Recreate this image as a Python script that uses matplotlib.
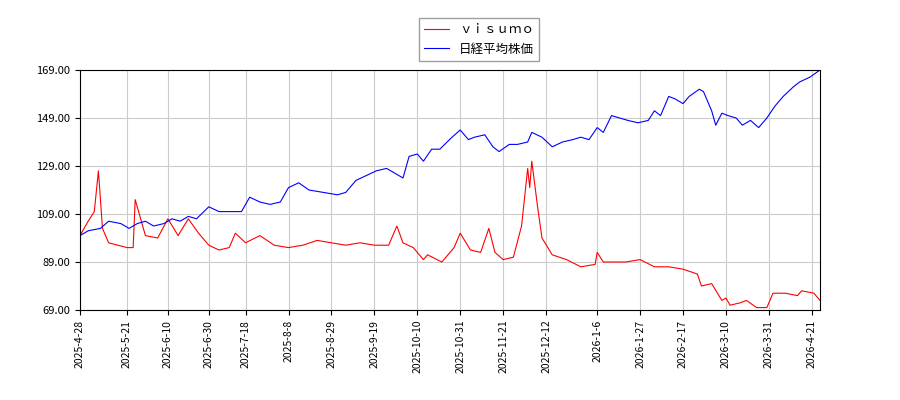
import matplotlib
matplotlib.use("Agg")
import matplotlib.pyplot as plt
import matplotlib.dates as mdates
import pandas as pd

plt.rcParams["font.family"] = ["Noto Sans CJK JP", "DejaVu Sans"]

red_dates = ["2025-04-28", "2025-05-02", "2025-05-05", "2025-05-07", "2025-05-09", "2025-05-12", "2025-05-21",
             "2025-05-24", "2025-05-25", "2025-05-30", "2025-06-05", "2025-06-10", "2025-06-15", "2025-06-20",
             "2025-06-25", "2025-06-30", "2025-07-05", "2025-07-10", "2025-07-13", "2025-07-18", "2025-07-25",
             "2025-08-01", "2025-08-08", "2025-08-15", "2025-08-22", "2025-08-29", "2025-09-05", "2025-09-12",
             "2025-09-19", "2025-09-26", "2025-09-30", "2025-10-03", "2025-10-08", "2025-10-13", "2025-10-15",
             "2025-10-22", "2025-10-28", "2025-10-31", "2025-11-05", "2025-11-10", "2025-11-14", "2025-11-17",
             "2025-11-21", "2025-11-26", "2025-11-30", "2025-12-03", "2025-12-04", "2025-12-05", "2025-12-08",
             "2025-12-10", "2025-12-15", "2025-12-22", "2025-12-29", "2026-01-05", "2026-01-06", "2026-01-09",
             "2026-01-20", "2026-01-27", "2026-02-03", "2026-02-10", "2026-02-17", "2026-02-24", "2026-02-26",
             "2026-03-03", "2026-03-08", "2026-03-10", "2026-03-12", "2026-03-17", "2026-03-20", "2026-03-25",
             "2026-03-30", "2026-04-02", "2026-04-08", "2026-04-14", "2026-04-16", "2026-04-22", "2026-04-25"]
red_values = [100, 106, 110, 127, 103, 97, 95, 95, 115, 100, 99, 107, 100, 107, 101, 96, 94, 95, 101, 97, 100,
              96, 95, 96, 98, 97, 96, 97, 96, 96, 104, 97, 95, 90, 92, 89, 95, 101, 94, 93, 103, 93, 90, 91,
              104, 128, 120, 131, 111, 99, 92, 90, 87, 88, 93, 89, 89, 90, 87, 87, 86, 84, 79, 80, 73, 74, 71,
              72, 73, 70, 70, 76, 76, 75, 77, 76, 73]

blue_dates = ["2025-04-28", "2025-05-02", "2025-05-08", "2025-05-12", "2025-05-18", "2025-05-22", "2025-05-26",
              "2025-05-30", "2025-06-03", "2025-06-08", "2025-06-12", "2025-06-16", "2025-06-20", "2025-06-24",
              "2025-06-30", "2025-07-05", "2025-07-10", "2025-07-16", "2025-07-20", "2025-07-25", "2025-07-30",
              "2025-08-04", "2025-08-08", "2025-08-13", "2025-08-18", "2025-08-25", "2025-09-01", "2025-09-05",
              "2025-09-10", "2025-09-15", "2025-09-20", "2025-09-25", "2025-10-01", "2025-10-03", "2025-10-06",
              "2025-10-10", "2025-10-13", "2025-10-17", "2025-10-21", "2025-10-27", "2025-10-31", "2025-11-04",
              "2025-11-07", "2025-11-12", "2025-11-16", "2025-11-19", "2025-11-24", "2025-11-28", "2025-12-03",
              "2025-12-05", "2025-12-10", "2025-12-15", "2025-12-20", "2025-12-25", "2025-12-29", "2026-01-02",
              "2026-01-06", "2026-01-09", "2026-01-13", "2026-01-17", "2026-01-21", "2026-01-26", "2026-01-31",
              "2026-02-03", "2026-02-06", "2026-02-10", "2026-02-13", "2026-02-17", "2026-02-20", "2026-02-25",
              "2026-02-27", "2026-03-03", "2026-03-05", "2026-03-08", "2026-03-11", "2026-03-15", "2026-03-18",
              "2026-03-22", "2026-03-26", "2026-03-30", "2026-04-03", "2026-04-07", "2026-04-12", "2026-04-15",
              "2026-04-20", "2026-04-25"]
blue_values = [100, 102, 103, 106, 105, 103, 105, 106, 104, 105, 107, 106, 108, 107, 112, 110, 110, 110, 116,
               114, 113, 114, 120, 122, 119, 118, 117, 118, 123, 125, 127, 128, 125, 124, 133, 134, 131, 136,
               136, 141, 144, 140, 141, 142, 137, 135, 138, 138, 139, 143, 141, 137, 139, 140, 141, 140, 145,
               143, 150, 149, 148, 147, 148, 152, 150, 158, 157, 155, 158, 161, 160, 152, 146, 151, 150, 149,
               146, 148, 145, 149, 154, 158, 162, 164, 166, 169]

tick_dates = ["2025-04-28", "2025-05-21", "2025-06-10", "2025-06-30", "2025-07-18", "2025-08-08", "2025-08-29",
              "2025-09-19", "2025-10-10", "2025-10-31", "2025-11-21", "2025-12-12", "2026-01-06", "2026-01-27",
              "2026-02-17", "2026-03-10", "2026-03-31", "2026-04-21"]
y_ticks = [69, 89, 109, 129, 149, 169]

rd = pd.to_datetime(red_dates)
bd = pd.to_datetime(blue_dates)
td = pd.to_datetime(tick_dates)

fig = plt.figure(figsize=(9, 4), dpi=100)
ax = fig.add_axes([80 / 900, 90 / 400, 740 / 900, 240 / 400])
ax.plot(rd, red_values, color="red", lw=0.8, label="ｖｉｓｕｍｏ")
ax.plot(bd, blue_values, color="blue", lw=0.8, label="日経平均株価")
ax.set_xlim(pd.Timestamp("2025-04-28"), pd.Timestamp("2026-04-25"))
ax.set_ylim(69, 169)
ax.set_yticks(y_ticks)
ax.set_yticklabels([f"{v:.2f}" for v in y_ticks], fontsize=8)
ax.set_xticks(td)
ax.set_xticklabels([f"{d.year}-{d.month}-{d.day}" for d in td], rotation=90, fontsize=7.5)
ax.grid(color="#cccccc", lw=0.8)
fig.legend(loc="upper center", bbox_to_anchor=(0.532, 0.97), fontsize=9, fancybox=False, edgecolor="#888888")
fig.savefig("out.png", dpi=100)
